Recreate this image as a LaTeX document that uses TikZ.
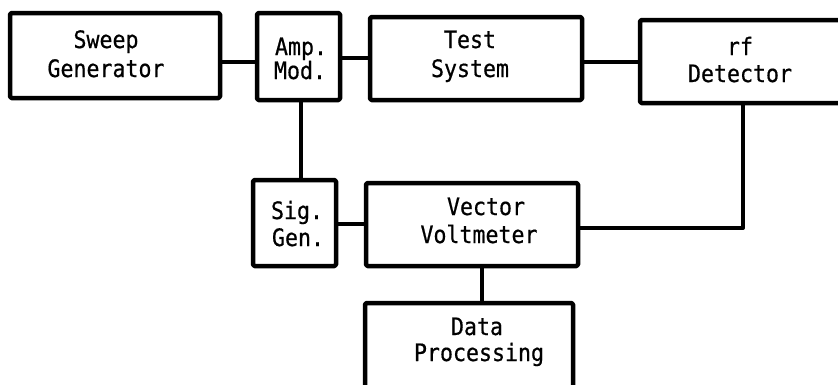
\documentclass[tikz,border=0pt]{standalone}
\usepackage{fontspec}
\setmonofont{DejaVu Sans Mono}[FakeStretch=0.9, FakeBold=0.6]
\begin{document}
\begin{tikzpicture}[x=1pt,y=-1pt,
  blockbox/.style={draw, line width=4.5pt, rounded corners=1.5pt, inner sep=0pt,
    outer sep=0pt, line join=round},
  wire/.style={line width=4pt, line join=round},
  lbl/.style={font=\ttfamily\fontsize{24}{28}\selectfont, anchor=base, inner sep=0pt}]
\useasboundingbox (0,0) rectangle (838,384);
\clip (0,0) rectangle (838,384);

% blocks
\node[blockbox, minimum width=210pt, minimum height=85pt] (sweep) at (115,55.5) {};
\node[blockbox, minimum width=83pt,  minimum height=87pt] (amp)   at (298.5,56.5) {};
\node[blockbox, minimum width=212pt, minimum height=83pt] (test)  at (476,58.5) {};
\node[blockbox, minimum width=210pt, minimum height=83pt] (rf)    at (745,61.5) {};
\node[blockbox, minimum width=83pt,  minimum height=86pt] (sig)   at (294.5,223) {};
\node[blockbox, minimum width=212pt, minimum height=83pt] (vv)    at (472,224.5) {};
\node[blockbox, minimum width=208pt, minimum height=92pt] (dp)    at (469,349) {};

% labels
\node[lbl] (sweepA) at (106,48) {Sweep};
\node[lbl] (sweepB) at (106,77) {Generator};
\node[lbl] (ampA) at (301,55) {Amp.};
\node[lbl] (ampB) at (300,79) {Mod.};
\node[lbl] (testA) at (470,48) {Test};
\node[lbl] (testB) at (470,77) {System};
\node[lbl] (rfA) at (740,55) {rf};
\node[lbl] (rfB) at (740,82) {Detector};
\node[lbl] (sigA) at (297,219) {Sig.};
\node[lbl] (sigB) at (298,246) {Gen.};
\node[lbl] (vvA) at (486,215) {Vector};
\node[lbl] (vvB) at (479,243) {Voltmeter};
\node[lbl] (dpA) at (477,335) {Data};
\node[lbl] (dpB) at (479,361) {Processing};

% connector rows and columns
\coordinate (rowA) at (0,62);
\coordinate (rowB) at (0,58);
\coordinate (rowC) at (0,224);
\coordinate (rowD) at (0,228);
\coordinate (colA) at (301,0);
\coordinate (colB) at (482,0);
\coordinate (colC) at (743,0);

\draw[wire] (sweep.east |- rowA) -- (amp.west |- rowA);
\draw[wire] (amp.east |- rowB) -- (test.west |- rowB);
\draw[wire] (test.east |- rowA) -- (rf.west |- rowA);
\draw[wire] (amp.south -| colA) -- (sig.north -| colA);
\draw[wire] (sig.east |- rowC) -- (vv.west |- rowC);
\draw[wire] (vv.south -| colB) -- (dp.north -| colB);
\draw[wire] (rf.south -| colC) -- (colC |- rowD) -- (vv.east |- rowD);
\end{tikzpicture}
\end{document}
